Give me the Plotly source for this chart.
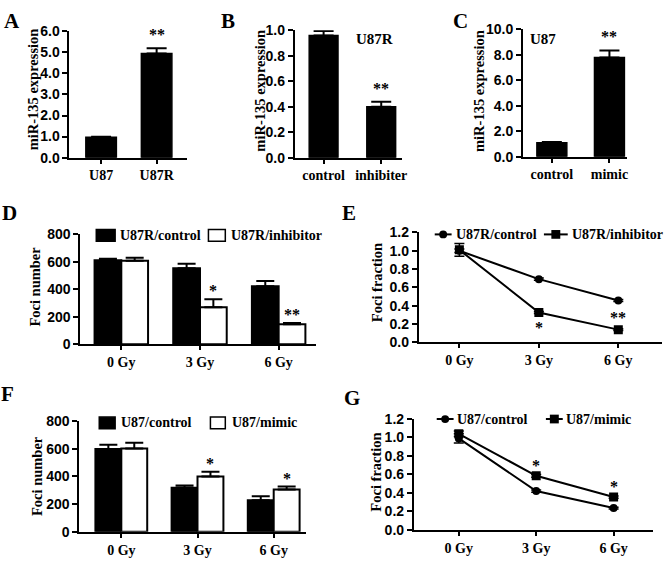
import plotly.graph_objects as go

SERIF = "Liberation Serif"
SANS = "Liberation Sans"
W, H = 670, 565

# ---------------- data ----------------
a_cats = ["U87", "U87R"]
a_vals = [0.97, 4.95]
a_errs = [0.02, 0.24]
a_sig = ["", "**"]

b_cats = ["control", "inhibiter"]
b_vals = [0.96, 0.40]
b_errs = [0.035, 0.04]
b_sig = ["", "**"]

c_cats = ["control", "mimic"]
c_vals = [1.1, 7.8]
c_errs = [0.05, 0.55]
c_sig = ["", "**"]

doses = ["0 Gy", "3 Gy", "6 Gy"]

d_names = ["U87R/control", "U87R/inhibitor"]
d_ctrl = [612, 554, 422]
d_ctrl_err = [10, 33, 38]
d_inh = [608, 269, 146]
d_inh_err = [22, 59, 8]
d_sig = ["", "*", "**"]

e_names = ["U87R/control", "U87R/inhibitor"]
e_ctrl = [1.0, 0.69, 0.456]
e_ctrl_err = [0.02, 0.012, 0.01]
e_inh = [1.01, 0.325, 0.138]
e_inh_err = [0.07, 0.012, 0.01]
e_sig = ["", "*", "**"]

f_names = ["U87/control", "U87/mimic"]
f_ctrl = [597, 317, 228]
f_ctrl_err = [32, 16, 28]
f_mim = [601, 399, 305]
f_mim_err = [42, 35, 21]
f_sig = ["", "*", "*"]

g_names = ["U87/control", "U87/mimic"]
g_ctrl = [0.99, 0.42, 0.235]
g_ctrl_err = [0.05, 0.012, 0.01]
g_mim = [1.04, 0.585, 0.355]
g_mim_err = [0.03, 0.015, 0.012]
g_sig = ["", "*", "*"]


def PX(x):
    return x / W


def PY(y):
    return 1 - y / H


def px_x(x0, x1):
    return [PX(x0), PX(x1)]


def px_y(top, bottom):
    return [PY(bottom), PY(top)]


def xax(domain, rng, anchor):
    return dict(domain=domain, range=rng, type="category", anchor=anchor,
                showline=True, linecolor="black", linewidth=2,
                ticks="outside", ticklen=4, tickwidth=2, tickcolor="black",
                showgrid=False, zeroline=False,
                tickfont=dict(family=SERIF, size=14, color="black", weight="bold"))


def yax(domain, rng, dtick, fmt, anchor):
    return dict(domain=domain, range=rng, dtick=dtick, tickformat=fmt, anchor=anchor,
                showline=True, linecolor="black", linewidth=2,
                ticks="outside", ticklen=5, tickwidth=2, tickcolor="black",
                showgrid=False, zeroline=False,
                tickfont=dict(family=SANS, size=14, color="black", weight="bold"))


def up_err(err, w=9):
    return dict(type="data", array=err, arrayminus=[0] * len(err), symmetric=False,
                color="black", thickness=2, width=w)


def sym_err(err):
    return dict(type="data", array=err, color="black", thickness=1.5, width=5)


fig = go.Figure()
star_font = dict(family=SERIF, size=16, color="black", weight="bold")
annotations = []
shapes = []


def single_bar(cats, vals, errs, sig, xa, ya, width):
    fig.add_trace(go.Bar(x=cats, y=vals, width=width,
                         marker=dict(color="black", line=dict(color="black", width=1.5)),
                         error_y=up_err(errs, 10), xaxis=xa, yaxis=ya, showlegend=False))
    for i, s in enumerate(sig):
        if s:
            annotations.append(dict(x=i, y=vals[i] + errs[i], xref=xa, yref=ya, text=s,
                                    showarrow=False, yanchor="bottom", yshift=3, font=star_font))


single_bar(a_cats, a_vals, a_errs, a_sig, "x", "y", 0.55)
single_bar(b_cats, b_vals, b_errs, b_sig, "x2", "y2", 0.5)
single_bar(c_cats, c_vals, c_errs, c_sig, "x3", "y3", 0.52)


def group_bar(names, s1, e1, s2, e2, sig, xa, ya, bw):
    fig.add_trace(go.Bar(x=doses, y=s1, name=names[0], width=bw, offset=-bw,
                         marker=dict(color="black", line=dict(color="black", width=2)),
                         error_y=up_err(e1), xaxis=xa, yaxis=ya, showlegend=False))
    fig.add_trace(go.Bar(x=doses, y=s2, name=names[1], width=bw, offset=0,
                         marker=dict(color="white", line=dict(color="black", width=2)),
                         error_y=up_err(e2), xaxis=xa, yaxis=ya, showlegend=False))
    for i, s in enumerate(sig):
        if s:
            annotations.append(dict(x=i + bw / 2, y=s2[i] + e2[i], xref=xa, yref=ya, text=s,
                                    showarrow=False, yanchor="bottom", yshift=-2, font=star_font))


group_bar(d_names, d_ctrl, d_ctrl_err, d_inh, d_inh_err, d_sig, "x4", "y4", 0.34)
group_bar(f_names, f_ctrl, f_ctrl_err, f_mim, f_mim_err, f_sig, "x6", "y6", 0.34)


def lines(names, s1, e1, s2, e2, xa, ya):
    fig.add_trace(go.Scatter(x=doses, y=s1, name=names[0], mode="lines+markers",
                             line=dict(color="black", width=2),
                             marker=dict(symbol="circle", size=8, color="black"),
                             error_y=sym_err(e1), xaxis=xa, yaxis=ya, showlegend=False))
    fig.add_trace(go.Scatter(x=doses, y=s2, name=names[1], mode="lines+markers",
                             line=dict(color="black", width=2),
                             marker=dict(symbol="square", size=9, color="black"),
                             error_y=sym_err(e2), xaxis=xa, yaxis=ya, showlegend=False))


lines(e_names, e_ctrl, e_ctrl_err, e_inh, e_inh_err, "x5", "y5")
lines(g_names, g_ctrl, g_ctrl_err, g_mim, g_mim_err, "x7", "y7")

# significance for line panels
for i, s in enumerate(e_sig):
    if s == "*":
        annotations.append(dict(x=i, y=e_inh[i], xref="x5", yref="y5", text=s, showarrow=False,
                                yanchor="top", yshift=-4, font=star_font))
    elif s:
        annotations.append(dict(x=i, y=e_inh[i], xref="x5", yref="y5", text=s, showarrow=False,
                                yanchor="bottom", yshift=2, font=star_font))
for i, s in enumerate(g_sig):
    if s:
        annotations.append(dict(x=i, y=g_mim[i], xref="x7", yref="y7", text=s, showarrow=False,
                                yanchor="bottom", yshift=0, font=star_font))

# panel letters
letter_font = dict(family=SERIF, size=21, color="black", weight="bold")
for txt, x, y in [("A", 12, 13), ("B", 230, 13), ("C", 464, 13), ("D", 10, 211),
                  ("E", 352, 211), ("F", 8, 397), ("G", 355, 401)]:
    annotations.append(dict(x=PX(x), y=PY(y), xref="paper", yref="paper", text=txt,
                            showarrow=False, xanchor="center", yanchor="middle", font=letter_font))

# y-axis titles
for txt, x, y, sz in [("miR-135 expression", 33, 84, 14.5), ("miR-135 expression", 262, 85, 14.5),
                      ("miR-135 expression", 482, 85, 14.5), ("Foci number", 35, 287, 14.5),
                      ("Foci fraction", 380, 283, 14.5), ("Foci number", 38, 482, 14.5),
                      ("Foci fraction", 379, 478, 14.5)]:
    annotations.append(dict(x=PX(x), y=PY(y), xref="paper", yref="paper", text=txt,
                            textangle=-90, showarrow=False, xanchor="center", yanchor="middle",
                            font=dict(family=SERIF, size=sz, color="black", weight="bold")))

# sub-titles
for txt, x, y in [("U87R", 377, 22), ("U87", 562, 22)]:
    annotations.append(dict(x=PX(x), y=PY(y), xref="paper", yref="paper", text=txt,
                            showarrow=False, font=dict(family=SERIF, size=15, color="black", weight="bold")))

# ---------------- legends (drawn as layout decoration) ----------------
leg_font = dict(family=SERIF, size=14, color="black", weight="bold")


def leg_text(txt, x, y):
    annotations.append(dict(x=PX(x), y=PY(y), xref="paper", yref="paper", text=txt,
                            showarrow=False, xanchor="left", yanchor="middle", font=leg_font))


def bar_swatch(x0, x1, yc, fill):
    shapes.append(dict(type="rect", xref="paper", yref="paper", x0=PX(x0), x1=PX(x1),
                       y0=PY(yc + 6), y1=PY(yc - 6), fillcolor=fill,
                       line=dict(color="black", width=1.5)))


def line_swatch(x0, x1, yc, sym):
    shapes.append(dict(type="line", xref="paper", yref="paper", x0=PX(x0), x1=PX(x1),
                       y0=PY(yc), y1=PY(yc), line=dict(color="black", width=2)))
    xc = (x0 + x1) / 2
    r = 4 if sym == "circle" else 4.5
    shapes.append(dict(type="circle" if sym == "circle" else "rect", xref="paper", yref="paper",
                       x0=PX(xc - r), x1=PX(xc + r), y0=PY(yc + r), y1=PY(yc - r),
                       fillcolor="black", line=dict(color="black", width=0)))


# D
bar_swatch(97, 116, 234, "black"); leg_text(d_names[0], 119, 234)
bar_swatch(210, 227, 234, "white"); leg_text(d_names[1], 231, 234)
# E
line_swatch(438, 455, 233, "circle"); leg_text(e_names[0], 457, 233)
line_swatch(548, 572, 233, "square"); leg_text(e_names[1], 574, 233)
# F
bar_swatch(100, 116, 427, "black"); leg_text(f_names[0], 120, 427)
bar_swatch(212, 227, 427, "white"); leg_text(f_names[1], 232, 427)
# G
line_swatch(440, 457, 423, "circle"); leg_text(g_names[0], 458, 423)
line_swatch(550, 567, 423, "square"); leg_text(g_names[1], 568, 423)

fig.update_layout(
    width=W, height=H, margin=dict(l=0, r=0, t=0, b=0),
    paper_bgcolor="white", plot_bgcolor="white", barmode="overlay", showlegend=False,
    xaxis=xax(px_x(70, 188), [-0.57, 1.54], "y"),
    yaxis=yax(px_y(24, 154), [0, 6], 1, ".1f", "x"),
    xaxis2=xax(px_x(297, 405), [-0.5, 1.36], "y2"),
    yaxis2=yax(px_y(23, 154), [0, 1], 0.2, ".1f", "x2"),
    xaxis3=xax(px_x(527, 632), [-0.5, 1.31], "y3"),
    yaxis3=yax(px_y(22, 153), [0, 10], 2, ".1f", "x3"),
    xaxis4=xax(px_x(81, 318), [-0.52, 2.47], "y4"),
    yaxis4=yax(px_y(233, 346), [0, 800], 200, "d", "x4"),
    xaxis5=xax(px_x(422, 667), [-0.51, 2.55], "y5"),
    yaxis5=yax(px_y(231, 344), [0, 1.2], 0.2, ".1f", "x5"),
    xaxis6=xax(px_x(80, 308), [-0.55, 2.42], "y6"),
    yaxis6=yax(px_y(425, 539), [0, 800], 200, "d", "x6"),
    xaxis7=xax(px_x(417, 658), [-0.58, 2.51], "y7"),
    yaxis7=yax(px_y(423, 537), [0, 1.2], 0.2, ".1f", "x7"),
    annotations=annotations,
    shapes=shapes,
)

fig.write_html("out.html", config={"displayModeBar": False, "staticPlot": True},
               post_script="document.body.style.margin='0';")
